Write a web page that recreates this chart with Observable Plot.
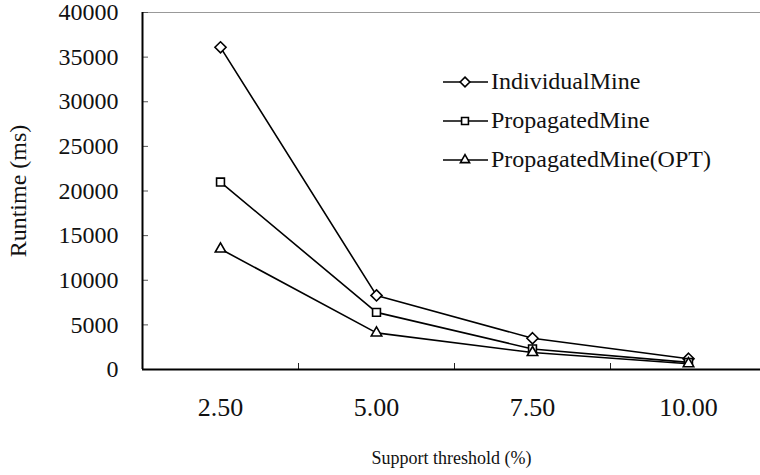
<!DOCTYPE html>
<html>
<head>
<meta charset="utf-8">
<script src="https://cdn.jsdelivr.net/npm/d3@7"></script>
<script src="https://cdn.jsdelivr.net/npm/@observablehq/plot@0.6"></script>
<style>
  html, body { margin: 0; padding: 0; background: #fff; }
  #wrap { position: relative; width: 760px; height: 475px; font-family: "Liberation Serif", serif; }
  #legend { position: absolute; left: 443px; top: 62px; }
  .row { display: flex; align-items: center; height: 39px; font-size: 24px; color: #111; font-family: "Liberation Serif", serif; }
  .row svg { margin-right: 3px; }
</style>
</head>
<body>
<div id="wrap"></div>
<script>
const thresholds = [2.5, 5, 7.5, 10];
const tickLabels = ["2.50", "5.00", "7.50", "10.00"];
const individualMine = [36100, 8300, 3500, 1200];
const propagatedMine = [21000, 6400, 2300, 800];
const propagatedMineOpt = [13500, 4100, 1900, 650];
const yTicks = [0, 5000, 10000, 15000, 20000, 25000, 30000, 35000, 40000];
const seriesNames = ["IndividualMine", "PropagatedMine", "PropagatedMine(OPT)"];
const seriesSymbols = ["diamond2", "square2", "triangle2"];
const xTitle = "Support threshold (%)";
const yTitle = "Runtime (ms)";

const seriesValues = [individualMine, propagatedMine, propagatedMineOpt];
const data = seriesNames.flatMap((name, i) =>
  thresholds.map((t, j) => ({series: name, x: t, y: seriesValues[i][j]}))
);
const step = thresholds[1] - thresholds[0];
const xDomain = [thresholds[0] - step / 2, thresholds[thresholds.length - 1] + step / 2];
const mids = d3.pairs(thresholds).map(([a, b]) => (a + b) / 2);
const labelMap = new Map(thresholds.map((t, i) => [t, tickLabels[i]]));

const chart = Plot.plot({
  width: 760,
  height: 475,
  marginLeft: 142,
  marginRight: 0,
  marginTop: 12,
  marginBottom: 106,
  style: {fontFamily: "'Liberation Serif', serif", fontSize: "23px", color: "#111", background: "#fff", overflow: "visible"},
  x: {type: "linear", domain: xDomain, range: [142, 766]},
  y: {domain: [0, 40000]},
  symbol: {domain: seriesNames, range: seriesSymbols},
  marks: [
    Plot.ruleY([yTicks[yTicks.length - 1]], {stroke: "#999", strokeWidth: 1}),
    Plot.axisY({ticks: yTicks, tickSize: -6, text: null, label: null, stroke: "#555"}),
    Plot.axisY({ticks: yTicks, tickSize: 0, tickPadding: 24, tickFormat: d => String(d), fontSize: 24,
      fontFamily: "Liberation Serif", label: yTitle, labelAnchor: "center", labelArrow: "none", labelOffset: 134}),
    Plot.axisX({ticks: mids, tickSize: -6, text: null, label: null, stroke: "#222"}),
    Plot.axisX({ticks: thresholds, tickSize: 0, tickPadding: 28, tickFormat: d => labelMap.get(d), fontSize: 26,
      fontFamily: "Liberation Serif", label: null}),
    Plot.text([xTitle], {text: d => d, frameAnchor: "bottom", dy: 89, lineAnchor: "middle",
      fontSize: 18, fontFamily: "Liberation Serif", fill: "#111"}),
    Plot.ruleX([xDomain[0]], {stroke: "#000", strokeWidth: 2}),
    Plot.ruleY([0], {stroke: "#000", strokeWidth: 2}),
    Plot.line(data, {x: "x", y: "y", z: "series", stroke: "#000", strokeWidth: 1.6}),
    Plot.dot(data, {x: "x", y: "y", symbol: "series", r: 5, stroke: "#000", fill: "#fff", strokeWidth: 1.6})
  ]
});
const wrap = document.getElementById("wrap");
wrap.appendChild(chart);

// legend
const legend = document.createElement("div");
legend.id = "legend";
seriesNames.forEach((name, i) => {
  const row = document.createElement("div");
  row.className = "row";
  const svg = d3.create("svg").attr("width", 45).attr("height", 20);
  svg.append("line").attr("x1", 0).attr("x2", 45).attr("y1", 10).attr("y2", 10)
    .attr("stroke", "#000").attr("stroke-width", 1.6);
  const sym = {diamond2: d3.symbolDiamond2, square2: d3.symbolSquare2, triangle2: d3.symbolTriangle2}[seriesSymbols[i]];
  svg.append("path").attr("transform", "translate(22,10)")
    .attr("d", d3.symbol(sym, 60)())
    .attr("fill", "#fff").attr("stroke", "#000").attr("stroke-width", 1.6);
  row.appendChild(svg.node());
  const span = document.createElement("span");
  span.textContent = name;
  row.appendChild(span);
  legend.appendChild(row);
});
wrap.appendChild(legend);
</script>
</body>
</html>
